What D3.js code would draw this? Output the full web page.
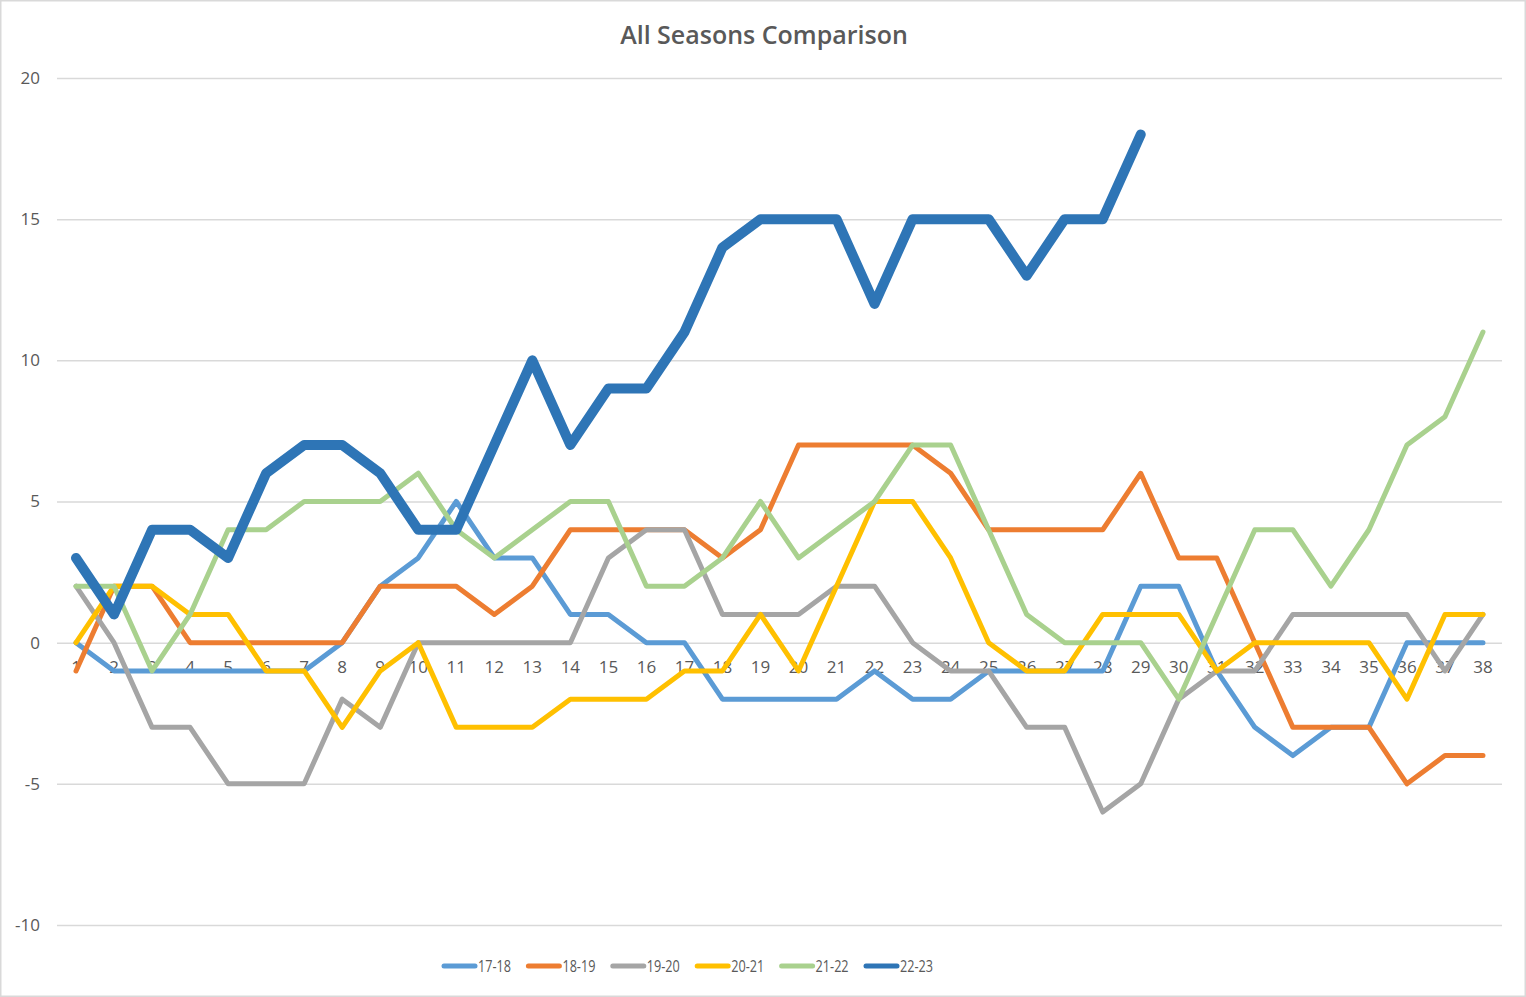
<!DOCTYPE html>
<html>
<head>
<meta charset="utf-8">
<script src="https://cdn.jsdelivr.net/npm/d3@7/dist/d3.min.js"></script>
<style>
  html, body { margin: 0; padding: 0; background: #fff; }
  svg { display: block; font-family: "Open Sans", sans-serif; }
</style>
</head>
<body>
<svg id="chart" width="1526" height="997"></svg>
<script>
// data
var rounds = d3.range(1, 39);
var seasons = ["17-18", "18-19", "19-20", "20-21", "21-22", "22-23"];
var s1718 = [0,-1,-1,-1,-1,-1,-1,0,2,3,5,3,3,1,1,0,0,-2,-2,-2,-2,-1,-2,-2,-1,-1,-1,-1,2,2,-1,-3,-4,-3,-3,0,0,0];
var s1819 = [-1,2,2,0,0,0,0,0,2,2,2,1,2,4,4,4,4,3,4,7,7,7,7,6,4,4,4,4,6,3,3,0,-3,-3,-3,-5,-4,-4];
var s1920 = [2,0,-3,-3,-5,-5,-5,-2,-3,0,0,0,0,0,3,4,4,1,1,1,2,2,0,-1,-1,-3,-3,-6,-5,-2,-1,-1,1,1,1,1,-1,1];
var s2021 = [0,2,2,1,1,-1,-1,-3,-1,0,-3,-3,-3,-2,-2,-2,-1,-1,1,-1,2,5,5,3,0,-1,-1,1,1,1,-1,0,0,0,0,-2,1,1];
var s2122 = [2,2,-1,1,4,4,5,5,5,6,4,3,4,5,5,2,2,3,5,3,4,5,7,7,4,1,0,0,0,-2,1,4,4,2,4,7,8,11];
var s2223 = [3,1,4,4,3,6,7,7,6,4,4,7,10,7,9,9,11,14,15,15,15,12,15,15,15,13,15,15,18];
var yTicks = [-10, -5, 0, 5, 10, 15, 20];
var colors = ["#5B9BD5", "#ED7D31", "#A5A5A5", "#FFC000", "#A9D18E", "#2E75B6"];

var series = [s1718, s1819, s1920, s2021, s2122, s2223];

var svg = d3.select("#chart");
var width = +svg.attr("width");
var height = +svg.attr("height");

var plot = { left: 57, right: 1502, top: 78, bottom: 925 };
var labelFont = "'Open Sans', sans-serif";

// chart area border
svg.append("rect")
  .attr("x", 0.75).attr("y", 0.75)
  .attr("width", width - 1.5).attr("height", height - 1.5)
  .attr("fill", "#fff")
  .attr("stroke", "#D9D9D9")
  .attr("stroke-width", 1.5);

var x = d3.scaleBand().domain(rounds).range([plot.left, plot.right]).padding(0);
var y = d3.scaleLinear().domain([-10, 20]).range([plot.bottom, plot.top]);
function cx(d) { return x(d) + x.bandwidth() / 2; }

// gridlines + y labels (plain hyphen for negatives, like the original)
var yAxis = d3.axisLeft(y).tickValues(yTicks)
  .tickFormat(function(d) { return String(d); })
  .tickSize(-(plot.right - plot.left)).tickPadding(17);
svg.append("g")
  .attr("transform", "translate(" + plot.left + ",0)")
  .call(yAxis)
  .call(function(g) {
    g.select(".domain").remove();
    g.selectAll(".tick line").attr("stroke", "#D9D9D9").attr("stroke-width", 1.5);
    g.selectAll(".tick text").attr("fill", "#595959").attr("font-size", 17)
      .attr("font-family", labelFont);
  });

// category labels sit under the zero line
var xAxis = d3.axisBottom(x).tickSize(0).tickPadding(18);
svg.append("g")
  .attr("transform", "translate(0," + y(0) + ")")
  .call(xAxis)
  .call(function(g) {
    g.select(".domain").remove();
    g.selectAll(".tick text").attr("fill", "#595959").attr("font-size", 17)
      .attr("font-family", labelFont);
  });

// lines
var line = d3.line()
  .x(function(d, i) { return cx(rounds[i]); })
  .y(function(d) { return y(d); });

svg.append("g").selectAll("path")
  .data(series)
  .enter().append("path")
  .attr("d", line)
  .attr("fill", "none")
  .attr("stroke", function(d, i) { return colors[i]; })
  .attr("stroke-width", function(d, i) { return i === 5 ? 10 : 5; })
  .attr("stroke-linejoin", "round")
  .attr("stroke-linecap", "round");

// title
svg.append("text")
  .attr("x", width / 2 + 1).attr("y", 44)
  .attr("text-anchor", "middle")
  .attr("fill", "#595959")
  .attr("font-size", 25)
  .attr("font-weight", 600)
  .text("All Seasons Comparison");

// legend
var legend = svg.append("g").attr("transform", "translate(442,966)");
var item = legend.selectAll("g")
  .data(seasons)
  .enter().append("g")
  .attr("transform", function(d, i) { return "translate(" + (i * 84.4) + ",0)"; });

item.append("line")
  .attr("x1", 2).attr("x2", 33)
  .attr("stroke", function(d, i) { return colors[i]; })
  .attr("stroke-width", 5)
  .attr("stroke-linecap", "round");

item.append("text")
  .attr("x", 36).attr("y", 0)
  .attr("dy", "0.35em")
  .attr("fill", "#595959")
  .attr("font-size", 17)
  .attr("textLength", 33)
  .attr("lengthAdjust", "spacingAndGlyphs")
  .text(function(d) { return d; });
</script>
</body>
</html>
